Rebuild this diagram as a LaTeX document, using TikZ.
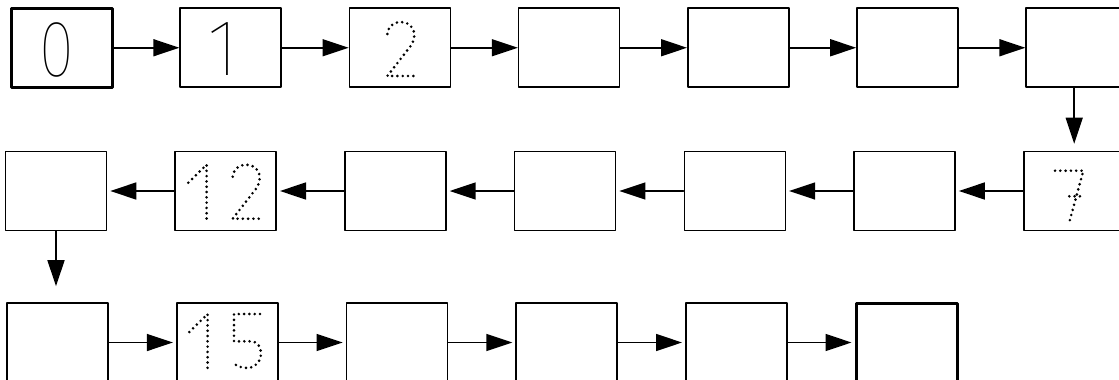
\documentclass[tikz,border=0pt]{standalone}
\usepackage{fontspec}
\IfFontExistsTF{Fira Sans Thin}{\newfontfamily\digitfont{Fira Sans Thin}}{%
  \IfFontExistsTF{Fira Sans Light}{\newfontfamily\digitfont{Fira Sans Light}}{\newfontfamily\digitfont{Fira Sans}}}
\usetikzlibrary{arrows.meta}

\tikzset{
  cell/.style={draw, line width=1.6pt, minimum width=101pt, minimum height=79pt, inner sep=0pt},
  endcell/.style={cell, line width=3pt},
  link/.style={line width=1.5pt, -{Triangle[length=26pt,width=17pt]}},
  digit/.style={inner sep=0pt, font=\digitfont\fontsize{80}{80}\selectfont},
  trace/.style={line width=2.9pt, line cap=round, dash pattern=on 0pt off 5.3pt},
  pics/dotone/.style={code={\draw[trace] (0,18) -- (18.3,0) -- (18.3,54);}},
  pics/dottwo/.style={code={\draw[trace] (0,12) .. controls (1,3) and (8,0) .. (14,0)
      .. controls (21,0) and (27,5) .. (27,13) .. controls (27,18) and (25,21.5) .. (23,24.5)
      -- (0,54) -- (27,54);}},
  pics/dotfive/.style={code={\draw[trace] (26,0) -- (0,0) -- (0,27.3) -- (16,27.3)
      .. controls (23,27.3) and (27,32) .. (27,39) .. controls (27,48) and (21,54) .. (13,54)
      .. controls (8,54) and (3,52) .. (0,49.7);}},
  pics/dotseven/.style={code={\draw[trace] (0,0) -- (28.3,0) -- (14.3,51.6);
      \draw[trace] (14.3,25.6) -- (27.3,25.6);}},
}

\begin{document}
\begin{tikzpicture}[x=1pt, y=-1pt, line cap=round, line join=round]
  \useasboundingbox (0,0) rectangle (1119,380);
  \clip (0,0) rectangle (1119,380);
  % first row, left to right
  \node[endcell] (n0) at (61.5,47.75) {};
  \foreach \i in {1,...,6}
    \node[cell] (n\i) at ({61.5+169.2*\i},47.75) {};
  % second row, right to left
  \foreach \i in {7,...,13}
    \node[cell] (n\i) at ({56+169.7*(13-\i)},191) {};
  % third row, left to right
  \foreach \i in {14,...,18}
    \node[cell] (n\i) at ({57.5+169.7*(\i-14)},342.5) {};
  \node[endcell] (n19) at (906.5,342.5) {};

  % digits
  \node[digit, xscale=0.8, transform shape] (d0) at (56.7,49.5) {0};
  \node[digit] (d1) at (223,49.3) {1};
  \pic at (387.3,22) {dottwo};
  \pic at (188.3,164.7) {dotone};
  \pic at (232.7,164.7) {dottwo};
  \pic at (1055,170.7) {dotseven};
  \pic at (189.3,314) {dotone};
  \pic at (234,314) {dotfive};

  % links
  \foreach \a/\b in {0/1,1/2,2/3,3/4,4/5,5/6}
    \draw[link] (n\a) -- (n\b);
  \draw[link, shorten >=7pt] (n7.north |- n6.south) -- (n7.north);
  \foreach \a/\b in {7/8,8/9,9/10,10/11,11/12,12/13}
    \draw[link, shorten >=3pt] (n\a) -- (n\b);
  \draw[link, shorten >=16pt] (n13.south) -- (n13.south |- n14.north);
  \foreach \a/\b in {14/15,15/16,16/17,17/18,18/19}
    \draw[link, shorten >=3pt] (n\a) -- (n\b);
\end{tikzpicture}
\end{document}
